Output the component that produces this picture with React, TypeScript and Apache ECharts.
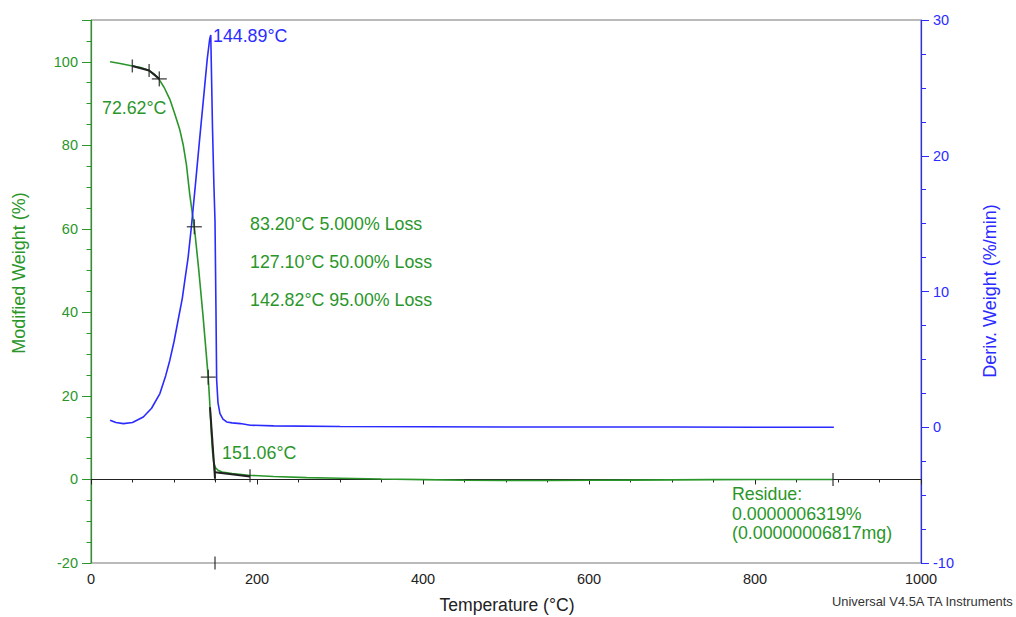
import React, { useEffect, useRef } from "react";
import * as echarts from "echarts";

// Temperature (°C) vs modified weight (%)
const weightCurve: [number, number][] = [
  [23, 100.0], [35, 99.6], [50, 99.0], [60, 98.6], [70, 97.9], [76, 97.1], [82, 95.8],
  [88, 93.9], [95, 91.0], [101, 87.5], [107, 83.7], [111, 80.2], [115, 75.3], [119, 68.2],
  [122, 63.8], [125, 59.5], [130, 49.8], [135, 39.1], [141, 25.1], [143, 18.6], [145, 11.0],
  [146.5, 6.5], [148, 4.0], [150, 2.8], [153, 2.2], [158, 1.8], [170, 1.4], [190, 1.0],
  [220, 0.7], [260, 0.45], [300, 0.3], [350, 0.1], [400, -0.05], [450, -0.2], [500, -0.25],
  [550, -0.25], [600, -0.2], [650, -0.15], [700, -0.1], [750, -0.05], [800, 0], [850, 0], [894, 0],
];

// Temperature (°C) vs derivative weight (%/min)
const derivCurve: [number, number][] = [
  [23, 0.52], [30, 0.35], [39, 0.27], [50, 0.35], [63, 0.76], [73, 1.4], [83, 2.48], [90, 3.8],
  [95, 4.94], [100, 6.3], [105, 7.9], [110, 9.5], [113, 10.8], [117, 12.5], [121, 14.8],
  [126, 18.0], [131, 21.3], [136, 24.5], [140, 27.1], [143, 28.6], [144.3, 28.9], [146.4, 22.0],
  [148, 18.0], [149.4, 15.2], [150.5, 9.0], [151.4, 3.46], [153, 1.8], [155.4, 1.0], [159, 0.6],
  [163.5, 0.39], [170, 0.32], [180, 0.27], [192, 0.15], [220, 0.1], [300, 0.06], [400, 0.04],
  [500, 0.02], [600, 0.02], [700, 0.02], [800, 0.0], [895, 0.0],
];

// Onset / analysis construction lines (weight axis)
const tangentTop: [number, number][] = [[49.8, 99.0], [70, 97.9], [82.3, 95.9]];
const tangentDrop: [number, number][] = [[143.4, 17.3], [149.4, 0.24]];
const tangentFlat: [number, number][] = [[149.4, 1.7], [191.6, 0.7]];

// Analysis markers
const crossMarks: [number, number][] = [[82.3, 95.9], [124.5, 60.5], [141.3, 24.5]];
const tickMarks: [number, number][] = [[49.8, 99.0], [70, 97.9], [149.4, 1.3], [191.6, 0.9], [894, 0], [149.4, -20]];

const GREEN = "#2a962a";
const BLUE = "#2b2bff";
const FONT = "Liberation Sans, Arial, sans-serif";

export default function App() {
  const ref = useRef<HTMLDivElement>(null);
  useEffect(() => {
    if (!ref.current) return;
    const chart = echarts.init(ref.current, null, { renderer: "svg" });
    const txt = (text: string, x: number, y: number, color: string, size = 17.8, extra: any = {}) => ({
      type: "text",
      x,
      y,
      ...extra,
      style: { text, fill: color, font: `${size}px ${FONT}`, verticalAlign: "middle", align: "left", ...(extra.style || {}) },
    });
    chart.setOption({
      animation: false,
      backgroundColor: "#fff",
      textStyle: { fontFamily: FONT },
      grid: { left: 91, right: 95, top: 20, bottom: 54, show: true, borderColor: "#777", borderWidth: 1 },
      xAxis: {
        type: "value",
        min: 0,
        max: 1000,
        interval: 200,
        axisLine: { lineStyle: { color: "#222", width: 1.2 } },
        axisTick: { length: 5, lineStyle: { color: "#222" } },
        minorTick: { show: true, splitNumber: 4, length: 3, lineStyle: { color: "#222" } },
        axisLabel: { color: "#222", fontSize: 14.5, margin: 8, fontFamily: FONT, formatter: (v: number) => String(v) },
        splitLine: { show: false },
      },
      yAxis: [
        {
          type: "value",
          position: "left",
          min: -20,
          max: 110,
          interval: 20,
          axisLine: { show: true, lineStyle: { color: GREEN, width: 1.2 } },
          axisTick: { length: 9, lineStyle: { color: GREEN } },
          axisLabel: {
            color: GREEN,
            fontSize: 14.5,
            margin: 13,
            fontFamily: FONT,
            formatter: (v: number) => (v > 100 ? "" : String(v)),
          },
          splitLine: { show: false },
        },
        {
          type: "value",
          position: "right",
          min: -10,
          max: 30,
          interval: 10,
          axisLine: { show: true, lineStyle: { color: BLUE, width: 1.2 } },
          axisTick: { length: 8, lineStyle: { color: BLUE } },
          minorTick: { show: true, splitNumber: 4, length: 5, lineStyle: { color: BLUE } },
          axisLabel: { color: BLUE, fontSize: 14.5, margin: 12, fontFamily: FONT },
          splitLine: { show: false },
        },
        {
          type: "value",
          position: "left",
          min: -20,
          max: 110,
          interval: 5,
          axisLine: { show: false },
          axisTick: { length: 4.5, lineStyle: { color: GREEN } },
          axisLabel: { show: false },
          splitLine: { show: false },
        },
      ],
      series: [
        {
          type: "line",
          name: "weight",
          data: weightCurve,
          yAxisIndex: 0,
          showSymbol: false,
          symbol: "none",
          lineStyle: { color: GREEN, width: 1.6 },
          z: 3,
        },
        {
          type: "line",
          name: "deriv",
          data: derivCurve,
          yAxisIndex: 1,
          showSymbol: false,
          symbol: "none",
          lineStyle: { color: BLUE, width: 1.6 },
          z: 3,
        },
        ...[tangentTop, tangentDrop, tangentFlat].map((d) => ({
          type: "line",
          data: d,
          yAxisIndex: 0,
          symbol: "none",
          lineStyle: { color: "#222", width: 2 },
          z: 4,
        })),
        {
          type: "scatter",
          data: crossMarks,
          yAxisIndex: 0,
          symbol: "rect",
          symbolSize: [15, 1.4],
          itemStyle: { color: "#222" },
          clip: false,
          z: 5,
        },
        {
          type: "scatter",
          data: crossMarks,
          yAxisIndex: 0,
          symbol: "rect",
          symbolSize: [1.4, 15],
          itemStyle: { color: "#222" },
          clip: false,
          z: 5,
        },
        {
          type: "scatter",
          data: tickMarks,
          yAxisIndex: 0,
          symbol: "rect",
          symbolSize: [1.4, 13],
          itemStyle: { color: "#222" },
          clip: false,
          z: 5,
        },
      ],
      graphic: [
        txt("144.89°C", 213, 36, BLUE),
        txt("72.62°C", 102, 108, GREEN),
        txt("83.20°C 5.000% Loss", 250, 224, GREEN),
        txt("127.10°C 50.00% Loss", 250, 262, GREEN),
        txt("142.82°C 95.00% Loss", 250, 300, GREEN),
        txt("151.06°C", 222, 453, GREEN),
        txt("Residue:", 732, 494, GREEN),
        txt("0.0000006319%", 732, 514, GREEN),
        txt("(0.00000006817mg)", 732, 533, GREEN),
        txt("Universal V4.5A TA Instruments", 832, 601, "#333", 12.9),
        txt("Temperature (°C)", 507, 605, "#222", 17.6, { style: { align: "center" } }),
        txt("Modified Weight (%)", 19, 273, GREEN, 18, { rotation: Math.PI / 2, style: { align: "center" } }),
        txt("Deriv. Weight (%/min)", 990, 291, BLUE, 18, { rotation: Math.PI / 2, style: { align: "center" } }),
      ],
    });
    return () => chart.dispose();
  }, []);
  return <div ref={ref} style={{ position: "fixed", left: 0, top: 0, width: 1016, height: 617 }} />;
}
